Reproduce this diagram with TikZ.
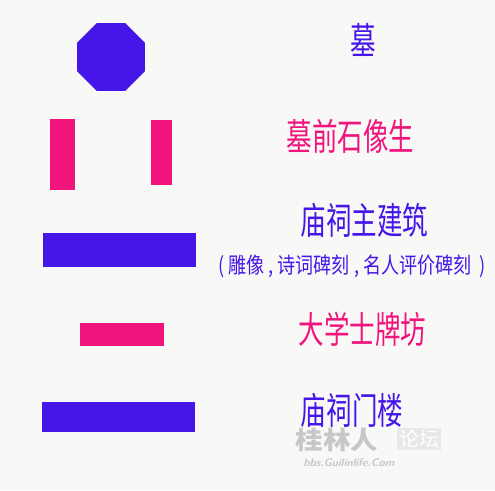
\documentclass[tikz,border=0pt]{standalone}
\usepackage{fontspec}
\usetikzlibrary{shapes.geometric}
\newfontfamily\cjk{Noto Sans CJK SC}
\definecolor{tombblue}{RGB}{70,22,232}
\definecolor{tombpink}{RGB}{240,20,124}
\definecolor{paper}{RGB}{248,248,246}

\begin{document}
\begin{tikzpicture}[x=1pt,y=-1pt]
  \tikzset{
  blk/.style={inner sep=0pt,outer sep=0pt},
  bl/.style={blk,fill=tombblue},
  pk/.style={blk,fill=tombpink},
  lbl/.style={inner sep=0pt,font=\cjk\fontsize{37}{37}\selectfont,xscale=0.69},
  sub/.style={inner sep=0pt,font=\cjk\fontsize{22}{22}\selectfont,xscale=0.82,text=tombblue},
  wm/.style={inner sep=0pt,font=\cjk\bfseries\fontsize{25}{25}\selectfont,text=black!22},
  }
  % the paper
  \fill[paper] (0,0) rectangle (495,490);
  \useasboundingbox (0,0) rectangle (495,490);

  % the shapes
  \node[bl,regular polygon,regular polygon sides=8,minimum size=73.6pt] (tomb) at (111,57) {};
  \node[pk,minimum width=25pt,minimum height=71pt] (statueL) at (62.5,154.5) {};
  \node[pk,minimum width=21pt,minimum height=65pt] (statueR) at (161.5,152.5) {};
  \node[bl,minimum width=153pt,minimum height=34pt] (hall) at (119.5,250) {};
  \node[pk,minimum width=84pt,minimum height=23pt] (arch) at (122,334.5) {};
  \node[bl,minimum width=153pt,minimum height=30pt] (gate) at (118.5,417) {};

  % the labels
  \node[lbl,text=tombblue] (tombtxt) at (363,40) {墓};
  \node[lbl,text=tombpink] (statuetxt) at (350.5,136) {墓前石像生};
  \node[lbl,text=tombblue] (halltxt) at (364.5,220) {庙祠主建筑};
  \node[sub] (hallsub) at (352,266) {( 雕像 , 诗词碑刻 , 名人评价碑刻 \ )};
  \node[lbl,text=tombpink] (archtxt) at (362.5,329) {大学士牌坊};
  \node[lbl,text=tombblue] (gatetxt) at (352,410.5) {庙祠门楼};

  % the watermark
  \node[wm,xscale=1.1] (wmname) at (337,440) {桂林人};
  \node[wm,font=\cjk\fontsize{20}{20}\selectfont,text=white,fill=black!9,inner sep=2pt] (wmtag) at (419,439) {论坛};
  \node[inner sep=0pt,font=\sffamily\itshape\bfseries\fontsize{11}{11}\selectfont,text=black!22] (wmurl) at (349,463) {bbs.Guilinlife.Com};
\end{tikzpicture}
\end{document}
